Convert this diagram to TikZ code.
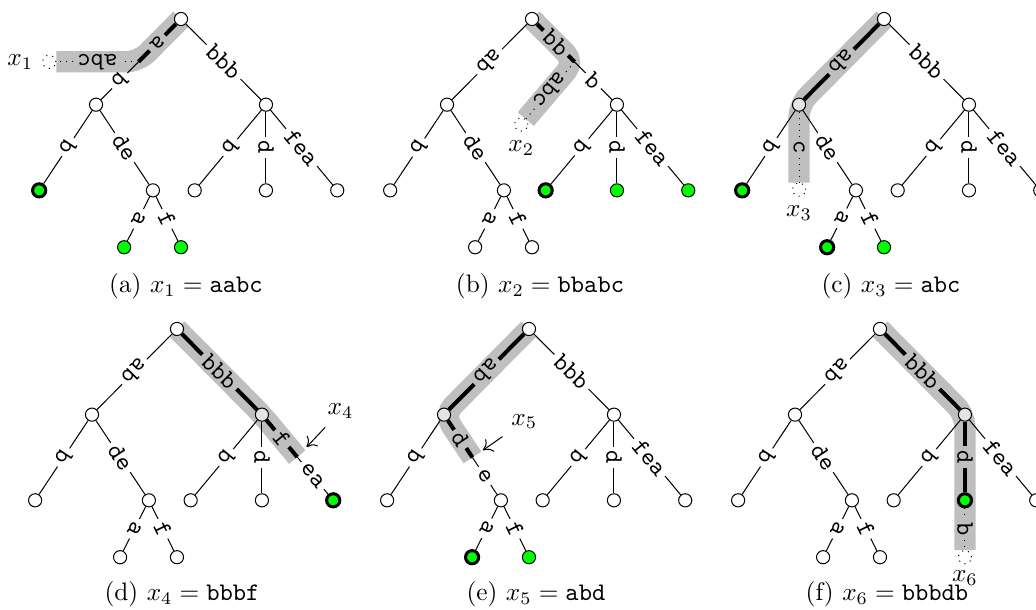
\documentclass[tikz,border=0pt]{standalone}
\usetikzlibrary{positioning,backgrounds,arrows.meta}

\tikzset{
  vtx/.style={circle, draw, fill=white, inner sep=0pt, minimum size=5.2pt},
  hit/.style={fill=green},
  best/.style={fill=green, very thick},
  via/.style={fill=gray!20},
  ghost/.style={circle, draw, dotted, fill=white, inner sep=0pt, minimum size=5.2pt},
  lbl/.style={font=\ttfamily, inner sep=1.5pt, sloped, allow upside down},
  band/.style={line width=8.4pt, draw=gray!50, rounded corners=5pt},
  match/.style={line width=1.6pt},
  miss/.style={dotted},
  pointer/.style={-{To[length=3.5pt, width=6pt]}},
  % extra look of single nodes, set again in each panel
  st-n1/.style={}, st-n3/.style={},
  st-l1/.style={}, st-n2a/.style={}, st-n2f/.style={},
  st-n3b/.style={}, st-n3d/.style={}, st-n3f/.style={}
}

% the trie's nodes, root at (0,0)
\newcommand\trienodes{%
  \node[vtx] (r) at (0,0) {};
  \node[vtx, st-n1] (n1) at (-1.18,-1.19) {};
  \node[vtx, st-n3] (n3) at (1.18,-1.19) {};
  \node[vtx, st-l1] (l1) at (-1.97,-2.38) {};
  \node[vtx] (n2) at (-0.39,-2.38) {};
  \node[vtx, st-n2a] (n2a) at (-0.79,-3.17) {};
  \node[vtx, st-n2f] (n2f) at (0,-3.17) {};
  \node[vtx, st-n3b] (n3b) at (0.19,-2.38) {};
  \node[vtx, st-n3d] (n3d) at (1.18,-2.38) {};
  \node[vtx, st-n3f] (n3f) at (2.17,-2.38) {};
}

% one piece of edge, the label cut out of the line
\newcommand\seg[5][]{%
  \path (#2) -- node[lbl] (#5) {#4} (#3);
  \draw[#1] (#2) -- (#5) -- (#3);
}

\begin{document}
\begin{tikzpicture}
  \useasboundingbox (0,0) rectangle (14.389,8.472);

  % (a) aabc
  \begin{scope}[shift={(2.514,8.208)}, name prefix=a-,
      st-l1/.style=best, st-n2a/.style=hit, st-n2f/.style=hit]
    \trienodes
    \path (r) -- coordinate[pos=.5] (s) (n1);
    \node[ghost] (g) at ([xshift=-1.24cm]s) {};
    \node[left=0pt of g] (x) {$x_1$};
    \begin{scope}[on background layer]
      \draw[band] (r.center) -- (s) -- (g);
    \end{scope}
    \seg[match]{r}{s}{a}{ta}
    \seg{s}{n1}{b}{tb}
    \seg[miss]{s}{g}{abc}{tx}
    \foreach \p/\c/\w in {r/n3/bbb, n1/l1/b, n1/n2/de, n2/n2a/a, n2/n2f/f,
        n3/n3b/b, n3/n3d/d, n3/n3f/fea}
      {\seg{\p}{\c}{\w}{t\c}}
  \end{scope}

  % (b) bbabc
  \begin{scope}[shift={(7.389,8.208)}, name prefix=b-,
      st-n3b/.style=best, st-n3d/.style=hit, st-n3f/.style=hit]
    \trienodes
    \path (r) -- coordinate[pos=.5] (s) (n3);
    \node[ghost] (g) at ([shift={(-0.74,-0.87)}]s) {};
    \node[below=0pt of g] (x) {$x_2$};
    \begin{scope}[on background layer]
      \draw[band] (r.center) -- (s) -- (g);
    \end{scope}
    \seg[match]{r}{s}{bb}{tbb}
    \seg{s}{n3}{b}{tb}
    \seg[miss]{s}{g}{abc}{tx}
    \foreach \p/\c/\w in {r/n1/ab, n1/l1/b, n1/n2/de, n2/n2a/a, n2/n2f/f,
        n3/n3b/b, n3/n3d/d, n3/n3f/fea}
      {\seg{\p}{\c}{\w}{t\c}}
  \end{scope}

  % (c) abc
  \begin{scope}[shift={(12.278,8.208)}, name prefix=c-, st-n1/.style=via,
      st-l1/.style=best, st-n2a/.style=best, st-n2f/.style=hit]
    \trienodes
    \node[ghost] (g) at ([yshift=-1.18cm]n1) {};
    \node[below=0pt of g] (x) {$x_3$};
    \begin{scope}[on background layer]
      \draw[band] (r.center) -- (n1.center) -- (g);
    \end{scope}
    \seg[match]{r}{n1}{ab}{tn1}
    \seg[miss]{n1}{g}{c}{tx}
    \foreach \p/\c/\w in {r/n3/bbb, n1/l1/b, n1/n2/de, n2/n2a/a, n2/n2f/f,
        n3/n3b/b, n3/n3d/d, n3/n3f/fea}
      {\seg{\p}{\c}{\w}{t\c}}
  \end{scope}

  % (d) bbbf
  \begin{scope}[shift={(2.458,3.903)}, name prefix=d-, st-n3/.style=via,
      st-n3f/.style=best]
    \trienodes
    \path (n3) -- coordinate[pos=.5] (s) (n3f);
    \node (x) at ([shift={(0.6,0.64)}]s) {$x_4$};
    \begin{scope}[on background layer]
      \draw[band] (r.center) -- (n3.center) -- (s);
    \end{scope}
    \seg[match]{r}{n3}{bbb}{tn3}
    \seg[match]{n3}{s}{f}{tf}
    \seg{s}{n3f}{ea}{tea}
    \draw[pointer, shorten >=5.4pt] (x) -- (s);
    \foreach \p/\c/\w in {r/n1/ab, n1/l1/b, n1/n2/de, n2/n2a/a, n2/n2f/f,
        n3/n3b/b, n3/n3d/d}
      {\seg{\p}{\c}{\w}{t\c}}
  \end{scope}

  % (e) abd
  \begin{scope}[shift={(7.347,3.903)}, name prefix=e-, st-n1/.style=via,
      st-n2a/.style=best, st-n2f/.style=hit]
    \trienodes
    \path (n1) -- coordinate[pos=.5] (s) (n2);
    \node (x) at ([shift={(0.72,0.5)}]s) {$x_5$};
    \begin{scope}[on background layer]
      \draw[band] (r.center) -- (n1.center) -- (s);
    \end{scope}
    \seg[match]{r}{n1}{ab}{tn1}
    \seg[match]{n1}{s}{d}{td}
    \seg{s}{n2}{e}{te}
    \draw[pointer, shorten >=5pt] (x) -- (s);
    \foreach \p/\c/\w in {r/n3/bbb, n1/l1/b, n2/n2a/a, n2/n2f/f,
        n3/n3b/b, n3/n3d/d, n3/n3f/fea}
      {\seg{\p}{\c}{\w}{t\c}}
  \end{scope}

  % (f) bbbdb
  \begin{scope}[shift={(12.222,3.903)}, name prefix=f-, st-n3/.style=via,
      st-n3d/.style=best]
    \trienodes
    \node[ghost] (g) at ([yshift=-0.79cm]n3d) {};
    \node[below=-1pt of g] (x) {$x_6$};
    \begin{scope}[on background layer]
      \draw[band] (r.center) -- (n3.center) -- (n3d.center) -- (g);
    \end{scope}
    \seg[match]{r}{n3}{bbb}{tn3}
    \seg[match]{n3}{n3d}{d}{tn3d}
    \seg[miss]{n3d}{g}{b}{tx}
    \foreach \p/\c/\w in {r/n1/ab, n1/l1/b, n1/n2/de, n2/n2a/a, n2/n2f/f,
        n3/n3b/b, n3/n3f/fea}
      {\seg{\p}{\c}{\w}{t\c}}
  \end{scope}

  % captions
  \node (cap-a) at (2.583,4.5) {(a) $x_1 = \texttt{aabc}$};
  \node (cap-b) at (7.5,4.5) {(b) $x_2 = \texttt{bbabc}$};
  \node (cap-c) at (12.375,4.5) {(c) $x_3 = \texttt{abc}$};
  \node (cap-d) at (2.528,0.22) {(d) $x_4 = \texttt{bbbf}$};
  \node (cap-e) at (7.444,0.22) {(e) $x_5 = \texttt{abd}$};
  \node (cap-f) at (12.319,0.22) {(f) $x_6 = \texttt{bbbdb}$};
\end{tikzpicture}
\end{document}
